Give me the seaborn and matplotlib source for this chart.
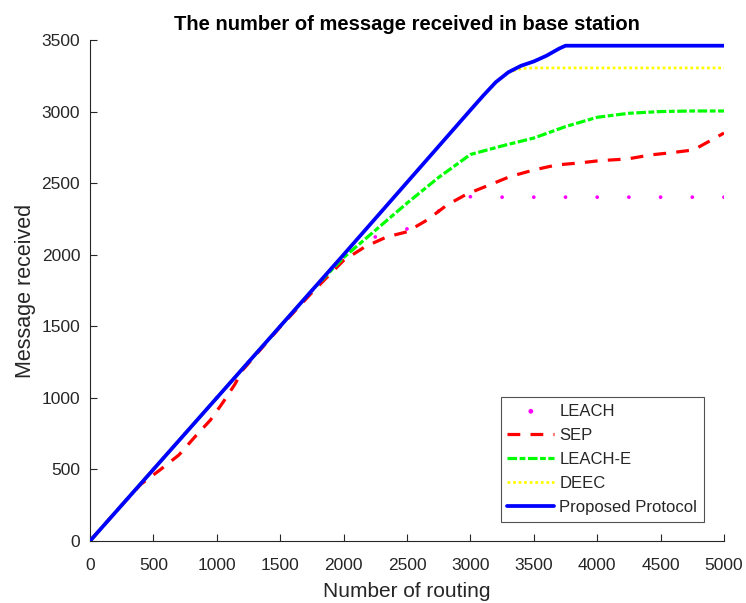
import matplotlib
matplotlib.use("Agg")
import matplotlib.pyplot as plt
import seaborn as sns

# Number of routing rounds vs. messages received at the base station
leach_x = [0, 250, 500, 750, 1000, 1250, 1500, 1750, 2000, 2250, 2500, 2750, 3000,
           3250, 3500, 3750, 4000, 4250, 4500, 4750, 5000]
leach_y = [0, 250, 500, 750, 1000, 1250, 1500, 1750, 1990, 2124, 2180, 2305, 2405,
           2402, 2402, 2402, 2402, 2402, 2402, 2402, 2402]

sep_x = [0, 250, 400, 550, 700, 830, 950, 1050, 1143, 1200, 1500, 1750, 2000, 2170,
         2340, 2500, 2660, 2815, 2975, 3150, 3310, 3500, 3680, 3860, 4020, 4240,
         4420, 4590, 4760, 4950, 5000]
sep_y = [0, 250, 395, 495, 600, 730, 845, 970, 1095, 1190, 1495, 1735, 1960, 2056,
         2124, 2160, 2243, 2347, 2425, 2487, 2545, 2592, 2627, 2641, 2657, 2669,
         2697, 2713, 2732, 2825, 2850]

leache_x = [0, 500, 1000, 1500, 1750, 2000, 2250, 2500, 2750, 3000, 3250, 3500,
            3750, 4000, 4250, 4500, 4750, 5000]
leache_y = [0, 500, 1000, 1500, 1750, 1980, 2170, 2360, 2540, 2700, 2760, 2815,
            2895, 2960, 2988, 3000, 3004, 3004]

deec_x = [0, 500, 1000, 1500, 2000, 2500, 3000, 3100, 3200, 3250, 3300, 3400, 3500,
          4000, 4500, 5000]
deec_y = [0, 500, 1000, 1500, 2000, 2505, 3010, 3110, 3200, 3240, 3275, 3300, 3305,
          3305, 3305, 3305]

prop_x = [0, 500, 1000, 1500, 2000, 2500, 3000, 3100, 3200, 3300, 3400, 3500, 3600,
          3700, 3750, 4000, 4500, 5000]
prop_y = [0, 500, 1000, 1500, 2000, 2505, 3010, 3110, 3205, 3275, 3320, 3350, 3390,
          3440, 3460, 3460, 3460, 3460]

sns.set_theme(style="white")
plt.rcParams['font.family'] = ['Liberation Sans', 'DejaVu Sans']
GRAY = '#262626'

fig = plt.figure(figsize=(7.46, 6.03), dpi=100)
ax = fig.add_axes([0.1206, 0.1028, 0.8499, 0.8309])

sns.scatterplot(x=leach_x, y=leach_y, ax=ax, color='#ff00ff', marker='o', s=7,
                edgecolor='none', label='LEACH', zorder=1)
sns.lineplot(x=sep_x, y=sep_y, ax=ax, color='red', lw=2.3,
             linestyle=(0, (4, 3.2)), label='SEP', zorder=2)
sns.lineplot(x=leache_x, y=leache_y, ax=ax, color='#00ff00', lw=2.3,
             linestyle=(0, (3, 0.8, 1.8, 0.8)), label='LEACH-E', zorder=3)
sns.lineplot(x=deec_x, y=deec_y, ax=ax, color='#ffff00', lw=2.0,
             linestyle=(0, (1, 1)), label='DEEC', zorder=4)
sns.lineplot(x=prop_x, y=prop_y, ax=ax, color='#0000ff', lw=2.7,
             label='Proposed Protocol', zorder=5)

ax.set_xlim(0, 5000)
ax.set_ylim(0, 3500)
ax.set_xticks(range(0, 5001, 500))
ax.set_yticks(range(0, 3501, 500))
ax.tick_params(direction='in', length=5, width=0.8, color=GRAY, labelcolor=GRAY,
               labelsize=12.5, bottom=True, left=True)
ax.tick_params(axis='x', pad=12)
ax.tick_params(axis='y', pad=7)
for side in ['top', 'right']:
    ax.spines[side].set_visible(False)
for side in ['left', 'bottom']:
    ax.spines[side].set_color(GRAY)
    ax.spines[side].set_linewidth(0.8)

ax.set_xlabel('Number of routing', fontsize=15, color=GRAY, labelpad=7)
ax.set_ylabel('Message received', fontsize=15.5, color=GRAY, labelpad=4)
ax.set_title('The number of message received in base station', fontsize=14.5,
             fontweight='bold', color='black', pad=7)

leg = ax.legend(loc='lower right', bbox_to_anchor=(0.968, 0.038), fontsize=12,
                frameon=True, fancybox=False, edgecolor=GRAY, handlelength=2.8,
                handletextpad=0.3, labelspacing=0.55, borderpad=0.4,
                borderaxespad=0, markerscale=1.3)
leg.get_frame().set_linewidth(0.8)

fig.savefig('out.png', dpi=100)
